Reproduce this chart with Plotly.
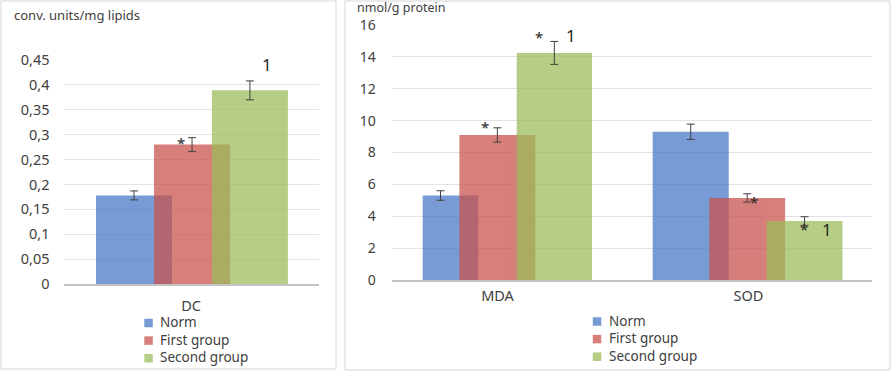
import plotly.graph_objects as go

W, H = 892, 373

# ---------------- data ----------------
series_names = ["Norm", "First group", "Second group"]

left_categories = ["DC"]
dc_norm = [0.178]
dc_first = [0.280]
dc_second = [0.389]
dc_norm_err = [0.009]
dc_first_err = [0.014]
dc_second_err = [0.019]
left_ticks = [0, 0.05, 0.1, 0.15, 0.2, 0.25, 0.3, 0.35, 0.4, 0.45]
left_ticktext = ["0", "0,05", "0,1", "0,15", "0,2", "0,25", "0,3", "0,35", "0,4", "0,45"]

right_categories = ["MDA", "SOD"]
ox_norm = [5.3, 9.3]
ox_first = [9.1, 5.15]
ox_second = [14.25, 3.7]
ox_norm_err = [0.3, 0.48]
ox_first_err = [0.45, 0.26]
ox_second_err = [0.72, 0.27]
right_ticks = [0, 2, 4, 6, 8, 10, 12, 14, 16]

# ---------------- style ----------------
colors = ["#4a78c6", "#c8524d", "#9bbb59"]
bar_opacity = 0.74
font_family = "Noto Sans"
text_color = "#404040"
grid_color = "#e3e3e3"
base_color = "#c4c4c4"
err_color = "#404040"


def px(x):
    return x / W


def py(y):
    return 1 - y / H


# bar geometry (in category units)
left_offsets = [[-0.3725], [-0.145], [0.082]]
left_widths = [[0.298], [0.298], [0.298]]

right_offsets = [[-0.298, -0.3817], [-0.152, -0.156], [0.0765, 0.0725]]
right_widths = [[0.2215, 0.303], [0.303, 0.302], [0.300, 0.302]]
right_err_shift = [[-0.227, -0.230], [-0.0005, -0.005], [0.2265, 0.2235]]

fig = go.Figure()

left_vals = [dc_norm, dc_first, dc_second]
left_errs = [dc_norm_err, dc_first_err, dc_second_err]
left_pos = list(range(len(left_categories)))
for i, name in enumerate(series_names):
    fig.add_trace(go.Bar(
        x=left_pos, y=left_vals[i], name=name,
        offset=left_offsets[i], width=left_widths[i],
        marker=dict(color=colors[i], line=dict(width=0)), opacity=bar_opacity,
        xaxis="x", yaxis="y", showlegend=False,
    ))
for i, name in enumerate(series_names):
    xs = [p + left_offsets[i][k] + left_widths[i][k] / 2 for k, p in enumerate(left_pos)]
    fig.add_trace(go.Scatter(
        x=xs, y=left_vals[i], mode="markers", marker=dict(size=1, opacity=0),
        error_y=dict(type="data", array=left_errs[i], color=err_color, thickness=1, width=4),
        xaxis="x", yaxis="y", showlegend=False, hoverinfo="skip",
    ))

right_vals = [ox_norm, ox_first, ox_second]
right_errs = [ox_norm_err, ox_first_err, ox_second_err]
right_pos = list(range(len(right_categories)))
for i, name in enumerate(series_names):
    fig.add_trace(go.Bar(
        x=right_pos, y=right_vals[i], name=name,
        offset=right_offsets[i], width=right_widths[i],
        marker=dict(color=colors[i], line=dict(width=0)), opacity=bar_opacity,
        xaxis="x2", yaxis="y2", showlegend=False,
    ))
for i, name in enumerate(series_names):
    xs = [p + right_err_shift[i][k] for k, p in enumerate(right_pos)]
    fig.add_trace(go.Scatter(
        x=xs, y=right_vals[i], mode="markers", marker=dict(size=1, opacity=0),
        error_y=dict(type="data", array=right_errs[i], color=err_color, thickness=1, width=4),
        xaxis="x2", yaxis="y2", showlegend=False, hoverinfo="skip",
    ))

axis_font = dict(family=font_family, size=14.5, color=text_color)
axis_font_r = dict(family=font_family, size=14, color=text_color)

fig.update_layout(
    autosize=True,
    margin=dict(l=0, r=0, t=0, b=0),
    template="none",
    paper_bgcolor="white", plot_bgcolor="white",
    barmode="overlay",
    font=dict(family=font_family, color=text_color),
    showlegend=False,
    xaxis=dict(
        domain=[px(63.5), px(318.5)], range=[-0.5, 0.5],
        tickvals=left_pos, ticktext=left_categories, tickfont=axis_font,
        showgrid=False, zeroline=False, showline=True, linecolor=base_color, linewidth=2,
        ticks="", ticklabelstandoff=8, anchor="y",
    ),
    yaxis=dict(
        domain=[py(284), py(60)], range=[0, 0.45],
        tickvals=left_ticks, ticktext=left_ticktext, tickfont=axis_font,
        showgrid=True, gridcolor=grid_color, gridwidth=1, zeroline=False, showline=False,
        ticks="", ticklabelstandoff=13, anchor="x",
    ),
    xaxis2=dict(
        domain=[px(391.7), px(871.7)], range=[-0.4215, 1.491],
        tickvals=right_pos, ticktext=right_categories, tickfont=axis_font,
        showgrid=False, zeroline=False, showline=True, linecolor=base_color, linewidth=2,
        ticks="", ticklabelstandoff=2, anchor="y2",
    ),
    yaxis2=dict(
        domain=[py(280), py(25)], range=[0, 16],
        tickvals=right_ticks, tickfont=axis_font_r,
        showgrid=True, gridcolor=grid_color, gridwidth=1, zeroline=False, showline=False,
        ticks="", ticklabelstandoff=15, anchor="x2",
    ),
)

# panel borders
fig.add_shape(type="rect", xref="paper", yref="paper",
              x0=px(1), x1=px(336), y0=py(369), y1=py(1),
              line=dict(color="#d6d6d6", width=1), fillcolor="rgba(0,0,0,0)", layer="below")
fig.add_shape(type="rect", xref="paper", yref="paper",
              x0=px(345), x1=px(890), y0=py(370), y1=py(1),
              line=dict(color="#d6d6d6", width=1), fillcolor="rgba(0,0,0,0)", layer="below")

# axis titles
fig.add_annotation(text="conv. units/mg lipids", xref="paper", yref="paper",
                   x=px(12), y=py(15), xanchor="left", yanchor="middle", showarrow=False,
                   font=dict(family=font_family, size=13, color=text_color))
fig.add_annotation(text="nmol/g protein", xref="paper", yref="paper",
                   x=px(355), y=py(7.3), xanchor="left", yanchor="middle", showarrow=False,
                   font=dict(family=font_family, size=12.5, color=text_color))

# legends (one per panel): swatch + label
legend_layouts = [
    dict(swatch_x=144.3, text_x=157.7, rows=[322.0, 339.6, 357.2]),
    dict(swatch_x=592.8, text_x=606.5, rows=[320.5, 338.1, 355.7]),
]
swatch = 8.5
for lg in legend_layouts:
    for i, name in enumerate(series_names):
        yc = lg["rows"][i] + 1
        fig.add_shape(type="rect", xref="paper", yref="paper",
                      x0=px(lg["swatch_x"]), x1=px(lg["swatch_x"] + swatch),
                      y0=py(yc + swatch / 2), y1=py(yc - swatch / 2),
                      line=dict(width=0), fillcolor=colors[i], opacity=bar_opacity)
        fig.add_annotation(text=name, xref="paper", yref="paper",
                           x=px(lg["text_x"]), y=py(lg["rows"][i]),
                           xanchor="left", yanchor="middle", showarrow=False,
                           font=dict(family=font_family, size=13.5, color=text_color))

# significance marks
marks = [
    ("x", "y", "*", -0.039, 0.283, 15),
    ("x", "y", "1", 0.298, 0.440, 17),
    ("x2", "y2", "*", -0.05, 9.6, 15),
    ("x2", "y2", "*", 0.167, 15.25, 15),
    ("x2", "y2", "1", 0.292, 15.35, 17),
    ("x2", "y2", "*", 1.022, 4.9, 15),
    ("x2", "y2", "*", 1.221, 3.2, 15),
    ("x2", "y2", "1", 1.312, 3.15, 17),
]
for xr, yr, t, xv, yv, fs in marks:
    fig.add_annotation(text=t, xref=xr, yref=yr, x=xv, y=yv, showarrow=False,
                       xanchor="center", yanchor="middle",
                       font=dict(family=font_family, size=fs, color="#262626"))

fig.write_html(
    "out.html",
    config={"displayModeBar": False, "responsive": True},
    default_width="100vw",
    default_height="100vh",
    post_script=(
        "document.documentElement.style.margin='0';"
        "document.documentElement.style.overflow='hidden';"
        "document.body.style.margin='0';"
        "document.body.style.overflow='hidden';"
        "var gd=document.getElementById('{plot_id}');"
        "gd.style.position='fixed';gd.style.left='0';gd.style.top='0';"
        "gd.style.width='100vw';gd.style.height='100vh';"
        "Plotly.Plots.resize(gd);"
    ),
)
